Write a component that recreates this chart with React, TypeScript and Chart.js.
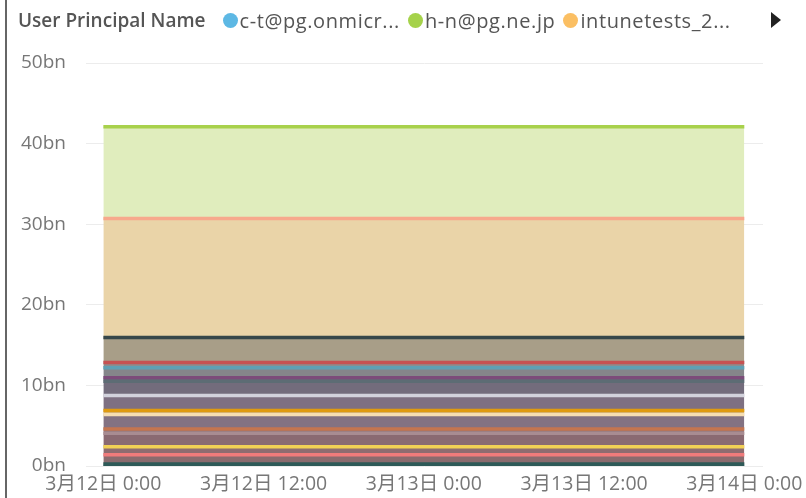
import React, { useEffect, useRef } from "react";
import { Chart, registerables } from "chart.js";

Chart.register(...registerables);

// Time positions (hours from 3月12日 0:00) and tick labels
const hours = [0, 12, 24, 36, 48];
const tickLabels = ["3月12日 0:00", "3月12日 12:00", "3月13日 0:00", "3月13日 12:00", "3月14日 0:00"];
const yTicks = [0, 10, 20, 30, 40, 50];

// Stacked series (bottom to top), values in billions (constant over time)
const seriesNames = [
  "user-01", "user-02", "user-03", "user-04", "user-05", "user-06", "user-07",
  "user-08", "user-09", "user-10", "c-t@pg.onmicrosoft.com", "user-12", "user-13",
  "intunetests_2", "h-n@pg.ne.jp",
];
const seriesValues = [0.2, 1.2, 1.0, 1.65, 0.55, 1.8, 0.5, 1.85, 1.75, 0.45, 1.25, 0.65, 3.1, 14.75, 11.4];
const lineColors = [
  "#2E5A58", "#F07B7B", "#F2D055", "#A88C92", "#C4754F", "#F6DEB2", "#DF9A10",
  "#D2D2DC", "#5D6C74", "#7C4C7A", "#5FA0B4", "#C65252", "#37474A", "#F7A98C", "#A8D14C",
];
const fillColors = [
  "#2E5A58", "#8A6B6E", "#8E6C70", "#8A6A72", "#8E7479", "#837282", "#C9A870",
  "#7E7082", "#736C7C", "#6F6578", "#85868A", "#8E8C8C", "#A89E88", "#EAD4A8", "#E0EDBD",
];

// Legend entries shown
const legendTitle = "User Principal Name";
const legendLabels = ["c-t@pg.onmicr...", "h-n@pg.ne.jp", "intunetests_2..."];
const legendColors = ["#5DB8E4", "#A5D24A", "#FBBF63"];

const FONT = "'Segoe UI', 'Open Sans', 'Noto Sans CJK JP', sans-serif";

export default function App() {
  const canvasRef = useRef<HTMLCanvasElement | null>(null);

  useEffect(() => {
    document.body.style.margin = "0";
    const ctx = canvasRef.current!;
    const datasets = seriesValues.map((v, i) => ({
      label: seriesNames[i],
      data: hours.map((h) => ({ x: h, y: v })),
      borderColor: lineColors[i],
      backgroundColor: fillColors[i],
      borderWidth: i === 0 ? 4.5 : 3.5,
      pointRadius: 0,
      fill: i === 0 ? "origin" : "-1",
      tension: 0,
    }));
    const chart = new Chart(ctx, {
      type: "line",
      data: { datasets },
      options: {
        animation: false,
        responsive: false,
        layout: { padding: { left: 0, top: 63, right: 43, bottom: 0 } },
        plugins: { legend: { display: false }, tooltip: { enabled: false } },
        scales: {
          x: {
            type: "linear",
            min: -1.3,
            max: 49.4,
            afterBuildTicks: (scale: any) => {
              scale.ticks = hours.map((h) => ({ value: h }));
            },
            afterFit: (scale: any) => {
              scale.height = 32;
              scale.paddingLeft = 0;
              scale.paddingRight = 0;
            },
            grid: { display: false, drawTicks: false },
            border: { display: false },
            ticks: {
              autoSkip: false,
              maxRotation: 0,
              padding: 7,
              color: "#777777",
              font: { family: FONT, size: 19.5 },
              callback: (value: any) => {
                const idx = hours.indexOf(Number(value));
                return idx >= 0 ? tickLabels[idx] : "";
              },
            },
          },
          y: {
            stacked: true,
            min: 0,
            max: 50,
            afterBuildTicks: (scale: any) => {
              scale.ticks = yTicks.map((v) => ({ value: v }));
            },
            afterFit: (scale: any) => {
              scale.width = 86;
            },
            grid: { color: "#ECECEC", lineWidth: 1, drawTicks: false },
            border: { display: false },
            ticks: {
              padding: 20,
              color: "#777777",
              font: { family: FONT, size: 19 },
              callback: (value: any) => `${value}bn`,
            },
          },
        },
      },
    });
    return () => chart.destroy();
  }, []);

  return (
    <div style={{ position: "relative", width: 806, height: 498, background: "#ffffff", overflow: "hidden" }}>
      <canvas ref={canvasRef} width={806} height={498} style={{ position: "absolute", left: 0, top: 0 }} />
      <div style={{ position: "absolute", left: 5, top: 0, width: 2, height: 498, background: "#666666" }} />
      <div
        style={{
          position: "absolute",
          left: 18,
          top: 6,
          height: 28,
          display: "flex",
          alignItems: "center",
          fontFamily: FONT,
          color: "#555555",
          whiteSpace: "nowrap",
        }}
      >
        <span style={{ fontWeight: 600, fontSize: 19, marginRight: 17 }}>{legendTitle}</span>
        {legendLabels.map((l, i) => (
          <span
            key={l}
            style={{ display: "flex", alignItems: "center", marginRight: 8, fontSize: 20, letterSpacing: 0.6 }}
          >
            <span
              style={{
                display: "inline-block",
                width: 15,
                height: 15,
                borderRadius: 8,
                background: legendColors[i],
                marginRight: 2,
              }}
            />
            <span>{l}</span>
          </span>
        ))}
      </div>
      <div
        style={{
          position: "absolute",
          left: 771,
          top: 12,
          width: 0,
          height: 0,
          borderTop: "8px solid transparent",
          borderBottom: "8px solid transparent",
          borderLeft: "10px solid #222222",
        }}
      />
    </div>
  );
}
